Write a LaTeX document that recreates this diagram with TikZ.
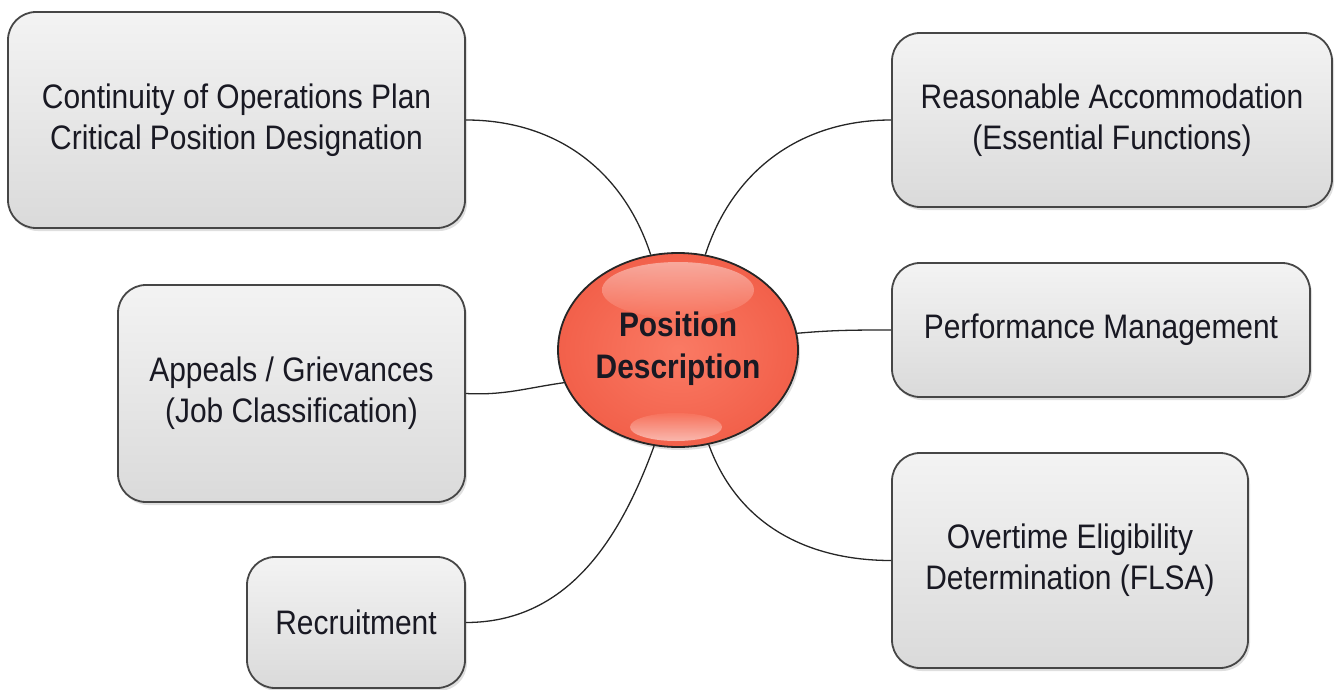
\documentclass[tikz,border=0pt]{standalone}
\usepackage{fontspec}
\setmainfont{Liberation Sans}[FakeStretch=0.88]
\usetikzlibrary{shapes.geometric,shadows}
\definecolor{boxtop}{RGB}{243,243,243}
\definecolor{boxbot}{RGB}{218,218,218}
\definecolor{edgec}{RGB}{70,70,70}
\definecolor{txt}{RGB}{25,25,35}
\definecolor{pdin}{RGB}{250,122,100}
\definecolor{pdout}{RGB}{242,96,74}
\begin{document}
\begin{tikzpicture}[x=1pt,y=-1pt,
  box/.style={draw=edgec, line width=1.8pt, rounded corners=28pt,
    top color=boxtop, bottom color=boxbot, align=center, text=txt,
    font=\fontsize{34}{41}\selectfont,
    drop shadow={shadow xshift=2pt,shadow yshift=-3pt,opacity=0.25}},
  conn/.style={draw=black!85, line width=1.3pt}]
\useasboundingbox (0,0) rectangle (1335,690);
% boxes
\node[box, minimum width=457pt, minimum height=216pt] (c1) at (236.5,120)
  {Continuity of Operations Plan\\Critical Position Designation};
\node[box, minimum width=347pt, minimum height=217pt] (c2) at (291.5,393.5)
  {Appeals / Grievances\\(Job Classification)};
\node[box, minimum width=218pt, minimum height=131pt] (c3) at (356,622.5)
  {Recruitment};
\node[box, minimum width=440pt, minimum height=174pt] (r1) at (1112,120)
  {Reasonable Accommodation\\(Essential Functions)};
\node[box, minimum width=418pt, minimum height=134pt] (r2) at (1101,330)
  {Performance Management};
\node[box, minimum width=356pt, minimum height=215pt] (r3) at (1070,560.5)
  {Overtime Eligibility\\Determination (FLSA)};
% centre ellipse
\node[ellipse, draw=black!85, line width=1.8pt, minimum width=240pt,
  minimum height=194pt, inner color=pdin, outer color=pdout,
  drop shadow={shadow xshift=2pt,shadow yshift=-3pt,opacity=0.25}] (pd) at (678,350) {};
\shade[top color=white, bottom color=pdin, opacity=0.45]
  (678,290) ellipse [x radius=76pt, y radius=28pt];
\shade[top color=pdin, bottom color=white, opacity=0.55]
  (676,427) ellipse [x radius=46pt, y radius=14pt];
\node[align=center, text=txt, font=\fontsize{34}{42}\selectfont\bfseries] (pdt) at (678,349)
  {Position\\Description};
% connectors
\draw[conn] (c1.east) to[out=0,in=108] (pd.106);
\draw[conn] (c2.east) to[out=-3,in=188] (pd.196);
\draw[conn] (c3.east) to[out=0,in=250] (pd.256);
\draw[conn] (r1.west) to[out=180,in=72] (pd.74);
\draw[conn] (r2.west) to[out=180,in=5] (pd.8);
\draw[conn] (r3.west) to[out=180,in=290] (pd.288);
\end{tikzpicture}
\end{document}
